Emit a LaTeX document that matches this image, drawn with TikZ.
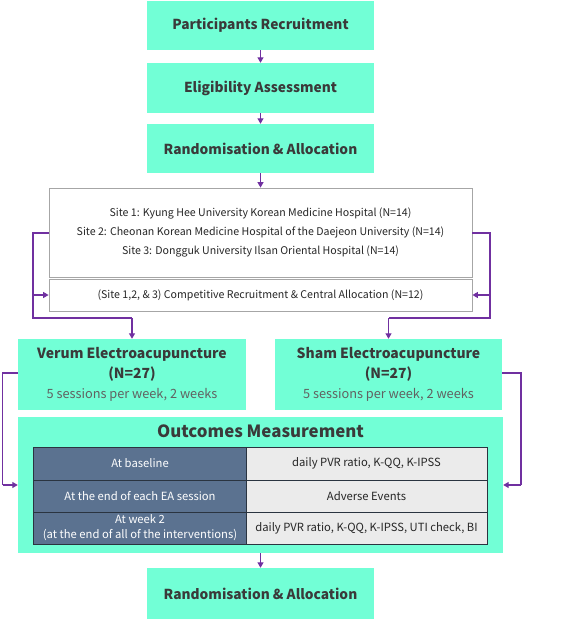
\documentclass[tikz,border=0pt]{standalone}
\usepackage{fontspec}
\setmainfont{Noto Sans CJK KR}
\usetikzlibrary{arrows.meta}
\definecolor{aqua}{HTML}{72FFD6}
\definecolor{slate}{HTML}{5B7290}
\definecolor{cellgray}{HTML}{EBEBEB}
\definecolor{tborder}{HTML}{2A3440}
\definecolor{purp}{HTML}{7030A0}
\definecolor{txt}{HTML}{3A3A3A}
\tikzset{
  x=1bp, y=-1bp,
  greenbox/.style={rectangle, fill=aqua, draw=none, inner sep=0pt, align=center, text=txt},
  headtxt/.style={font=\fontsize{13.8}{16}\selectfont\bfseries},
  whitebox/.style={rectangle, draw=gray!70, line width=0.8bp, fill=white, inner sep=0pt, align=center, text=black!85, font=\fontsize{10.65}{19}\selectfont},
  darkcell/.style={rectangle, fill=slate, draw=tborder, line width=1bp, inner sep=0pt, align=center, text=white, font=\fontsize{11.3}{15}\selectfont},
  lightcell/.style={rectangle, fill=cellgray, draw=tborder, line width=1bp, inner sep=0pt, align=center, text=black!85, font=\fontsize{11.3}{15}\selectfont},
  conn/.style={draw=purp, line width=1.2bp, -{Triangle[width=6bp,length=5.5bp]}},
  line/.style={draw=purp, line width=1.2bp},
  armtxt/.style={font=\fontsize{14}{20}\selectfont\bfseries},
}
\newcommand{\sesstxt}{\mdseries\fontsize{12.8}{18}\selectfont\color{black!62}5 sessions per week, 2 weeks}
\begin{document}
\begin{tikzpicture}
\useasboundingbox (0,0) rectangle (567,619);
\node[greenbox, minimum width=227bp, minimum height=49bp, headtxt] (p1) at (260.5,25.5) {Participants Recruitment};
\node[greenbox, minimum width=227bp, minimum height=50bp, headtxt] (p2) at (260.5,88) {Eligibility Assessment};
\node[greenbox, minimum width=227bp, minimum height=49bp, headtxt] (p3) at (260.5,148.5) {Randomisation \& Allocation};
\node[whitebox, minimum width=423bp, minimum height=89bp] (site) at (260.5,232.5) {Site 1: Kyung Hee University Korean Medicine Hospital (N=14)\\Site 2: Cheonan Korean Medicine Hospital of the Daejeon University (N=14)\\Site 3: Dongguk University Ilsan Oriental Hospital (N=14)};
\node[whitebox, minimum width=423bp, minimum height=32bp] (comp) at (260.5,295) {(Site 1,2, \& 3) Competitive Recruitment \& Central Allocation (N=12)};
\node[greenbox, armtxt, minimum width=228bp, minimum height=71bp] (verum) at (132,374.5) {Verum Electroacupuncture\\(N=27)\\\sesstxt};
\node[greenbox, armtxt, minimum width=227bp, minimum height=71bp] (sham) at (388.5,374.5) {Sham Electroacupuncture\\(N=27)\\\sesstxt};
\node[greenbox, minimum width=485bp, minimum height=136bp] (outc) at (260.5,485) {};
\node[text=txt, font=\fontsize{16.9}{20}\selectfont\bfseries] (otitle) at (260.5,431) {Outcomes Measurement};
\node[darkcell, minimum width=212bp, minimum height=33bp] (a1) at (140,463.5) {At baseline};
\node[lightcell, minimum width=241bp, minimum height=33bp] (b1) at (366.5,463.5) {daily PVR ratio, K-QQ, K-IPSS};
\node[darkcell, minimum width=212bp, minimum height=32bp] (a2) at (140,496) {At the end of each EA session};
\node[lightcell, minimum width=241bp, minimum height=32bp] (b2) at (366.5,496) {Adverse Events};
\node[darkcell, minimum width=212bp, minimum height=32bp] (a3) at (140,528) {At week 2\\(at the end of all of the interventions)};
\node[lightcell, minimum width=241bp, minimum height=32bp] (b3) at (366.5,528) {daily PVR ratio, K-QQ, K-IPSS, UTI check, BI};
\node[greenbox, minimum width=227bp, minimum height=51bp, headtxt] (p4) at (260.5,593.5) {Randomisation \& Allocation};
% arrows
\draw[conn] (p1) -- (p2);
\draw[conn] (p2) -- (p3);
\draw[conn] (p3) -- (site);
\draw[conn] (outc) -- (p4);
% site branches
\coordinate (lA) at (33,233);
\coordinate (lB) at (33,318);
\coordinate (lC) at (132,318);
\coordinate (lM) at (33,295);
\coordinate (rA) at (490,233);
\coordinate (rB) at (490,318);
\coordinate (rC) at (388.5,318);
\coordinate (rM) at (490,295);
\draw[line] (site.west |- lA) -- (lA) -- (lB) -- (lC);
\draw[conn] (lC) -- (verum.north);
\draw[conn] (lM) -- (comp.west);
\draw[line] (site.east |- rA) -- (rA) -- (rB) -- (rC);
\draw[conn] (rC) -- (sham.north);
\draw[conn] (rM) -- (comp.east);
% outer
\coordinate (oA) at (2.5,373);
\coordinate (oB) at (2.5,485);
\coordinate (oC) at (521,373);
\coordinate (oD) at (521,485);
\draw[line] (verum.west |- oA) -- (oA) -- (oB);
\draw[conn] (oB) -- (outc.west);
\draw[line] (sham.east |- oC) -- (oC) -- (oD);
\draw[conn] (oD) -- (outc.east);
\end{tikzpicture}
\end{document}
